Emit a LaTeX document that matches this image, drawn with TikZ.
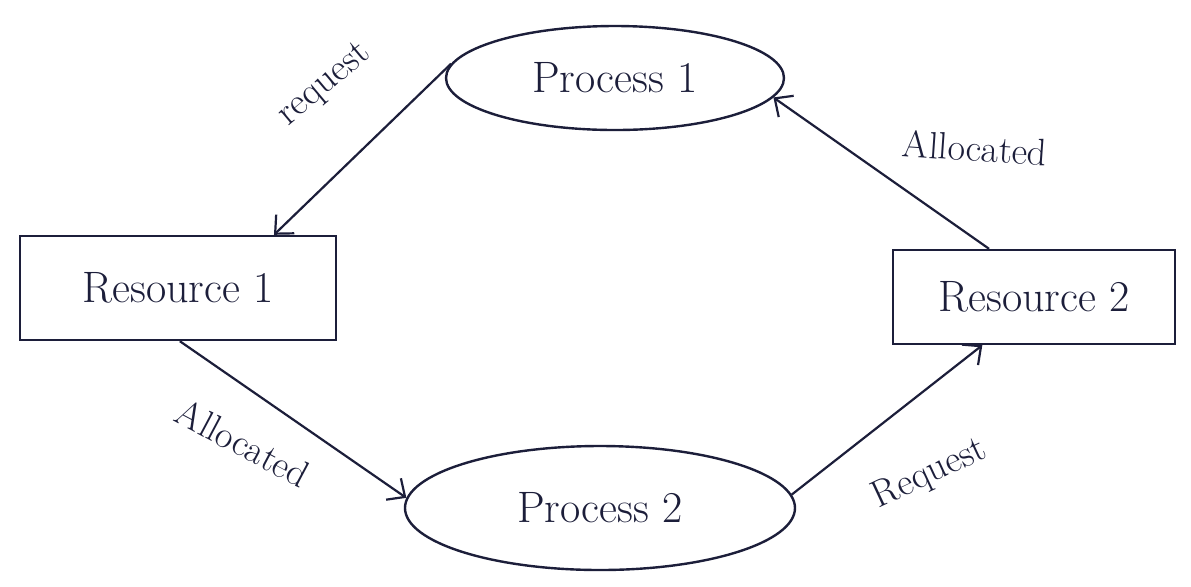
\documentclass[tikz,border=0pt]{standalone}
\usepackage{tikz}
\usetikzlibrary{positioning,arrows.meta,shapes.geometric}
\definecolor{ink}{RGB}{28,30,58}

\begin{document}
\begin{tikzpicture}[
  x=0.5pt, y=-0.5pt,
  proc/.style={draw=ink, ellipse, line width=1.2pt, inner sep=0pt, text=ink, font=\fontsize{22}{26}\selectfont},
  res/.style={draw=ink, rectangle, line width=1.2pt, inner sep=0pt, text=ink, font=\fontsize{22}{26}\selectfont},
  arr/.style={-{Straight Barb[length=7pt,width=13pt]}, line width=1.1pt, draw=ink},
  lbl/.style={text=ink, font=\fontsize{19}{22}\selectfont},
]
\useasboundingbox[fill=white] (0,0) rectangle (1191,586);
\node[proc, minimum width=169pt, minimum height=52pt] (p1) at (615,78) {Process 1};
\node[proc, minimum width=195pt, minimum height=62pt] (p2) at (600,508) {Process 2};
\node[res, minimum width=158pt, minimum height=52pt] (r1) at (178,288) {Resource 1};
\node[res, minimum width=141pt, minimum height=47pt] (r2) at (1034,297) {Resource 2};
\draw[arr] (p1.175) -- (r1.29);
\draw[arr] (r2.133) -- (p1.-7);
\draw[arr] (r1.-88) -- (p2.177);
\draw[arr] (p2.4) -- (r2.-137);
\node[lbl, rotate=40] (req1) at (325,85) {request};
\node[lbl, rotate=-4] (alloc1) at (975,148) {Allocated};
\node[lbl, rotate=-28] (alloc2) at (243,443) {Allocated};
\node[lbl, rotate=25] (req2) at (930,474) {Request};
\end{tikzpicture}
\end{document}
